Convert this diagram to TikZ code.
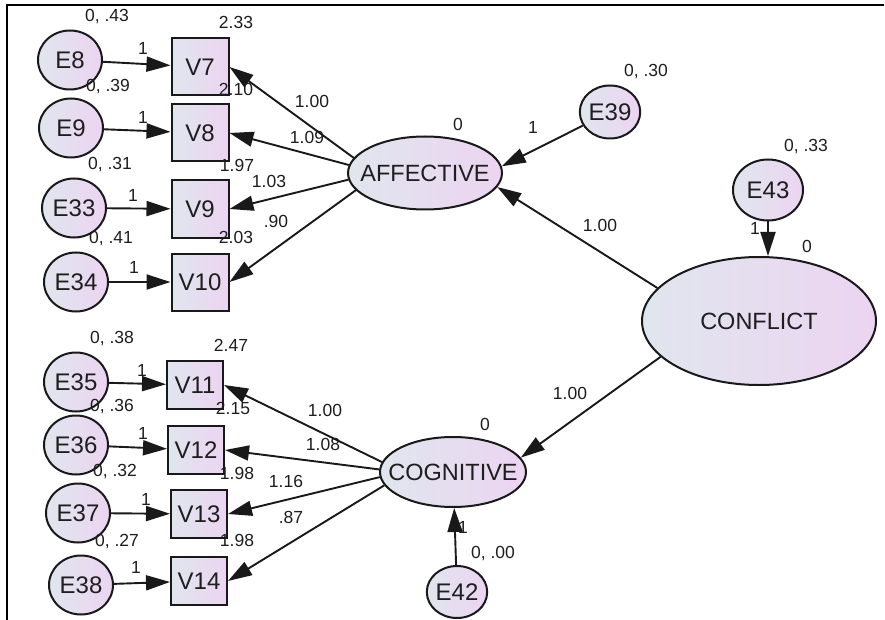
\documentclass[tikz,border=0pt]{standalone}
\usepackage{fontspec}
\setmainfont{Liberation Sans}
\usetikzlibrary{shapes.geometric,arrows.meta}
\definecolor{shadeL}{RGB}{224,230,238}
\definecolor{shadeR}{RGB}{236,212,241}
\definecolor{txt}{RGB}{30,30,30}
\begin{document}
\begin{tikzpicture}[x=1pt,y=-1pt,
  base/.style={draw=black!90,line width=2pt,left color=shadeL,right color=shadeR,inner sep=0pt,text=txt,font=\fontsize{24}{26}\selectfont},
  obs/.style={base,rectangle,minimum width=57pt,minimum height=57pt},
  obsb/.style={base,rectangle,minimum width=56pt,minimum height=48pt},
  err/.style={base,ellipse,minimum width=64pt,minimum height=59pt},
  lat/.style={base,ellipse,inner xsep=-13pt,font=\fontsize{23.5}{26}\selectfont},
  lbl/.style={font=\fontsize{17.5}{19}\selectfont,text=txt,inner sep=0pt},
  arr/.style={line width=1.9pt,draw=black!90,-{Triangle[length=24pt,width=15pt]}}
]
\useasboundingbox (0,0) rectangle (885,620);
\fill[white] (0,0) rectangle (885,620);
\coordinate (fb) at (7,620);
\coordinate (fc) at (7,5);
\coordinate (fr) at (884,5);
\draw[line width=1.8pt] (fb) -- (fc) -- (fr);

% error terms
\node[err] (E8) at (70,60) {E8};
\node[err] (E9) at (71,128) {E9};
\node[err] (E33) at (74,208) {E33};
\node[err] (E34) at (76,282) {E34};
\node[err] (E35) at (76,382) {E35};
\node[err] (E36) at (76,445) {E36};
\node[err] (E37) at (78,513) {E37};
\node[err] (E38) at (81,585) {E38};
\node[err,minimum width=56pt,minimum height=53pt] (E39) at (610,112) {E39};
\node[err,minimum width=70pt,minimum height=61pt] (E43) at (768,190) {E43};
\node[err,minimum width=58pt,minimum height=52pt] (E42) at (457,592) {E42};

% observed
\node[obs] (V7) at (200,67) {V7};
\node[obs] (V8) at (200,133) {V8};
\node[obs] (V9) at (200,209) {V9};
\node[obs] (V10) at (200,282) {V10};
\node[obsb] (V11) at (195,385) {V11};
\node[obsb] (V12) at (196,450) {V12};
\node[obsb] (V13) at (199,514) {V13};
\node[obsb] (V14) at (199,581) {V14};

% latent
\node[lat,minimum width=154pt,minimum height=73pt] (AFF) at (425,173) {AFFECTIVE};
\node[lat,minimum width=144pt,minimum height=70pt] (COG) at (453,472) {COGNITIVE};
\node[lat,minimum width=234pt,minimum height=128pt] (CONF) at (759,321) {CONFLICT};

% arrows
\draw[arr] (E8) -- (V7);
\draw[arr] (E9) -- (V8);
\draw[arr] (E33) -- (V9);
\draw[arr] (E34) -- (V10);
\draw[arr] (E35) -- (V11);
\draw[arr] (E36) -- (V12);
\draw[arr] (E37) -- (V13);
\draw[arr] (E38) -- (V14);
\draw[arr] (AFF.168) -- (V7.east);
\draw[arr] (AFF.174) -- (V8.east);
\draw[arr] (AFF.185) -- (V9.east);
\draw[arr] (AFF.194) -- (V10.east);
\draw[arr] (COG.172) -- (V11.east);
\draw[arr] (COG.178) -- (V12.east);
\draw[arr] (COG.184) -- (V13.east);
\draw[arr] (COG.191) -- (V14.east);
\draw[arr] (CONF.162) -- (AFF.-11);
\draw[arr] (CONF.200) -- (COG.12);
\draw[arr] (E39) -- (AFF.5);
\draw[arr] (E43) -- (E43 |- CONF.north);
\draw[arr] (E42) -- (COG);

% labels
\node[lbl] (l1) at (107,17) {0, .43};
\node[lbl] (l2) at (236,22) {2.33};
\node[lbl] (l3) at (143,48) {1};
\node[lbl] (l4) at (108,87) {0, .39};
\node[lbl] (l5) at (236,89) {2.10};
\node[lbl] (l6) at (312,101) {1.00};
\node[lbl] (l7) at (307,137) {1.09};
\node[lbl] (l8) at (143,117) {1};
\node[lbl] (l9) at (110,165) {0, .31};
\node[lbl] (l10) at (237,165) {1.97};
\node[lbl] (l11) at (269,181) {1.03};
\node[lbl] (l12) at (133,195) {1};
\node[lbl] (l13) at (276,221) {.90};
\node[lbl] (l14) at (111,239) {0, .41};
\node[lbl] (l15) at (236,237) {2.03};
\node[lbl] (l16) at (134,267) {1};
\node[lbl] (l17) at (112,339) {0, .38};
\node[lbl] (l18) at (231,345) {2.47};
\node[lbl] (l19) at (142,370) {1};
\node[lbl] (l20) at (325,410) {1.00};
\node[lbl] (l21) at (112,407) {0, .36};
\node[lbl] (l22) at (233,408) {2.15};
\node[lbl] (l23) at (143,433) {1};
\node[lbl] (l24) at (323,444) {1.08};
\node[lbl] (l25) at (115,472) {0, .32};
\node[lbl] (l26) at (237,473) {1.98};
\node[lbl] (l27) at (286,481) {1.16};
\node[lbl] (l28) at (146,499) {1};
\node[lbl] (l29) at (291,517) {.87};
\node[lbl] (l30) at (117,542) {0, .27};
\node[lbl] (l31) at (237,540) {1.98};
\node[lbl] (l32) at (136,567) {1};
\node[lbl] (l33) at (646,72) {0, .30};
\node[lbl] (l34) at (458,124) {0};
\node[lbl] (l35) at (533,127) {1};
\node[lbl] (l36) at (600,225) {1.00};
\node[lbl] (l37) at (806,147) {0, .33};
\node[lbl] (l38) at (755,228) {1};
\node[lbl] (l39) at (807,246) {0};
\node[lbl] (l40) at (570,393) {1.00};
\node[lbl] (l41) at (485,424) {0};
\node[lbl] (l42) at (463,527) {1};
\node[lbl] (l43) at (493,554) {0, .00};
\end{tikzpicture}
\end{document}
